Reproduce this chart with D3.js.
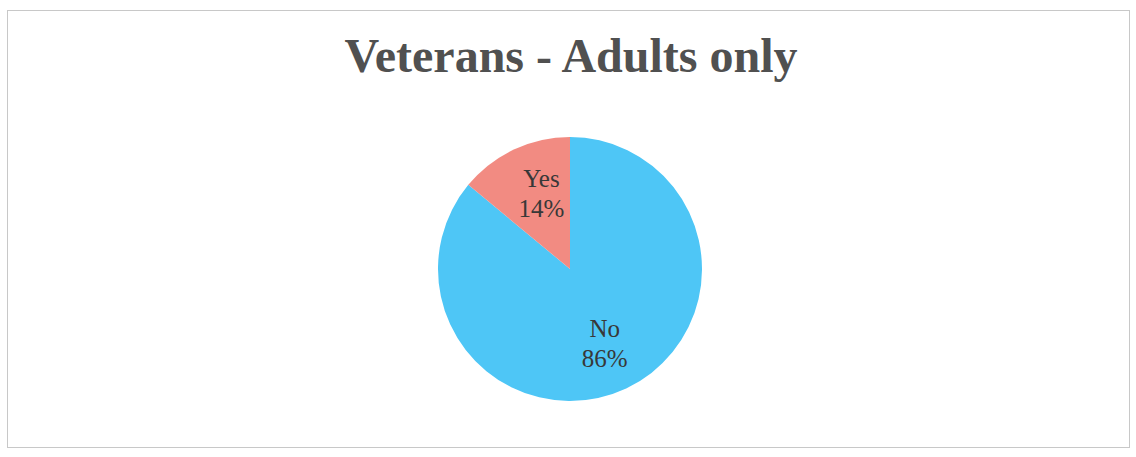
<!DOCTYPE html>
<html><head><meta charset="utf-8">
<script src="https://cdn.jsdelivr.net/npm/d3@7"></script>
<style>body{margin:0;background:#fff}svg{display:block}</style>
</head><body>
<svg id="c" width="1136" height="457"></svg>
<script>
const categories = ["Yes", "No"];
const values = [14, 86];
const labels = ["14%", "86%"];
const colors = ["#f28b82", "#4ec6f6"];
const title = "Veterans - Adults only";

const svg = d3.select("#c");
svg.append("rect").attr("x", 7.5).attr("y", 10.5).attr("width", 1122).attr("height", 437)
  .attr("fill", "#fff").attr("stroke", "#c8c8c8").attr("stroke-width", 1);

svg.append("text").attr("x", 571).attr("y", 72).attr("text-anchor", "middle")
  .attr("font-family", "Liberation Serif, Times New Roman, serif").attr("font-weight", "bold")
  .attr("font-size", 48).attr("fill", "#505050").text(title);

const cx = 570, cy = 269, r = 132;
const data = categories.map((c, i) => ({cat: c, val: values[i], lab: labels[i], col: colors[i]}));
// Yes slice goes counter-clockwise from 12 o'clock: order No first then Yes
const pie = d3.pie().sort(null).value(d => d.val).startAngle(0).endAngle(2 * Math.PI);
const arcs = pie([data[1], data[0]]);
const arc = d3.arc().innerRadius(0).outerRadius(r);
const g = svg.append("g").attr("transform", `translate(${cx},${cy})`);
g.selectAll("path").data(arcs).enter().append("path")
  .attr("d", arc).attr("fill", d => d.data.col);

const lab = g.selectAll("g.l").data(arcs).enter().append("g").attr("class", "l")
  .attr("transform", d => {
    const mid = (d.startAngle + d.endAngle) / 2;
    const isYes = d.data.cat === "Yes";
    const rr = isYes ? r * 0.65 : r * 0.6;
    const dx = isYes ? 8 : 1;
    return `translate(${Math.sin(mid) * rr + dx},${-Math.cos(mid) * rr})`;
  });
lab.append("text").attr("text-anchor", "middle").attr("y", -4)
  .attr("font-family", "Liberation Serif, Times New Roman, serif").attr("font-size", 25)
  .attr("fill", "#383838").text(d => d.data.cat);
lab.append("text").attr("text-anchor", "middle").attr("y", 26)
  .attr("font-family", "Liberation Serif, Times New Roman, serif").attr("font-size", 25)
  .attr("fill", "#383838").text(d => d.data.lab);
</script>
</body></html>
